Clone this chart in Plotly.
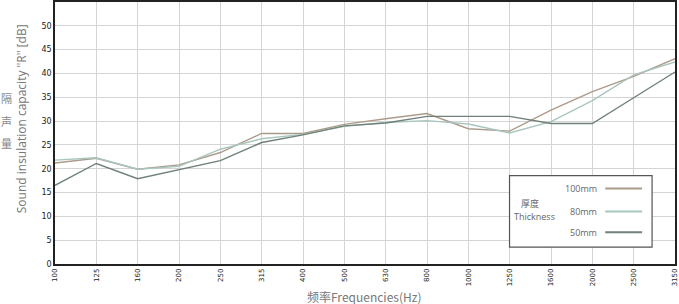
import plotly.graph_objects as go

freqs = ["100", "125", "160", "200", "250", "315", "400", "500", "630", "800",
         "1000", "1250", "1600", "2000", "2500", "3150"]
r_100mm = [21.2, 22.2, 19.9, 20.8, 23.4, 27.4, 27.4, 29.3, 30.5, 31.6, 28.4, 27.9, 32.3, 36.2, 39.4, 43.1]
r_80mm = [21.8, 22.3, 19.9, 20.5, 24.1, 26.3, 27.2, 28.9, 29.7, 30.1, 29.4, 27.5, 29.9, 34.3, 39.7, 42.4]
r_50mm = [16.5, 21.1, 17.9, 19.8, 21.7, 25.5, 27.1, 29.0, 29.6, 31.0, 31.0, 31.0, 29.5, 29.5, 34.9, 40.3]
series_names = ["100mm", "80mm", "50mm"]
series_colors = ["#ab9b8b", "#a9c6be", "#6f8179"]
y_ticks = list(range(0, 55, 5))

W, H = 679, 304
L, R, T, B = 55, 677, 0, 264


def px(x):
    return (x - L) / (R - L)


def py(y):
    return (B - y) / (B - T)


def note(x, y, text, size, color, family, xanchor="center", angle=0):
    fig.add_annotation(x=px(x), y=py(y), xref="paper", yref="paper", showarrow=False,
                       xanchor=xanchor, yanchor="middle", text=text, textangle=angle,
                       font=dict(size=size, color=color, family=family))


fig = go.Figure()
for name, vals, col in zip(series_names, [r_100mm, r_80mm, r_50mm], series_colors):
    fig.add_trace(go.Scatter(x=freqs, y=vals, mode="lines", name=name,
                             line=dict(color=col, width=1.4), showlegend=False))

fig.update_layout(
    width=W, height=H,
    margin=dict(l=L, r=W - R, t=T, b=H - B),
    plot_bgcolor="white", paper_bgcolor="white",
    font=dict(family="DejaVu Sans", color="#555"),
)
fig.update_xaxes(type="category", range=[0, 15], showgrid=True, gridcolor="#d4d4d4", gridwidth=1,
                 showline=True, linecolor="#222", linewidth=1.5, mirror=True,
                 tickangle=-90, tickfont=dict(size=7, color="#222"), ticks="")
fig.update_yaxes(range=[0, 55], tickvals=y_ticks, showgrid=True, gridcolor="#d4d4d4", gridwidth=1,
                 showline=True, linecolor="#222", linewidth=1.5, mirror=True,
                 tickfont=dict(size=8, color="#222"), ticks="", zeroline=False)

# axis titles
note(365, 297, "频率Frequencies(Hz)", 12, "#777", "Noto Sans CJK SC")
note(21, 118, 'Sound insulation capacity "R" [dB]', 12, "#777", "Open Sans", angle=-90)
for ch, yy in zip("隔声量", [97, 120, 142]):
    note(6, yy, ch, 11, "#888", "Noto Sans CJK SC")

# legend box
fig.add_shape(type="rect", xref="paper", yref="paper",
              x0=px(511), x1=px(654), y0=py(175), y1=py(247),
              line=dict(color="#555", width=1.2), fillcolor="white", layer="above")
note(532, 203, "厚度", 9, "#666", "Noto Sans CJK SC")
note(536, 216, "Thickness", 9, "#666", "Open Sans")
for name, col, yy in zip(series_names, series_colors, [188, 211, 232]):
    note(601, yy, name, 9, "#666", "Open Sans", xanchor="right")
    fig.add_shape(type="line", xref="paper", yref="paper", x0=px(607), x1=px(644),
                  y0=py(yy), y1=py(yy), line=dict(color=col, width=2), layer="above")

fig.write_html("out.html")
